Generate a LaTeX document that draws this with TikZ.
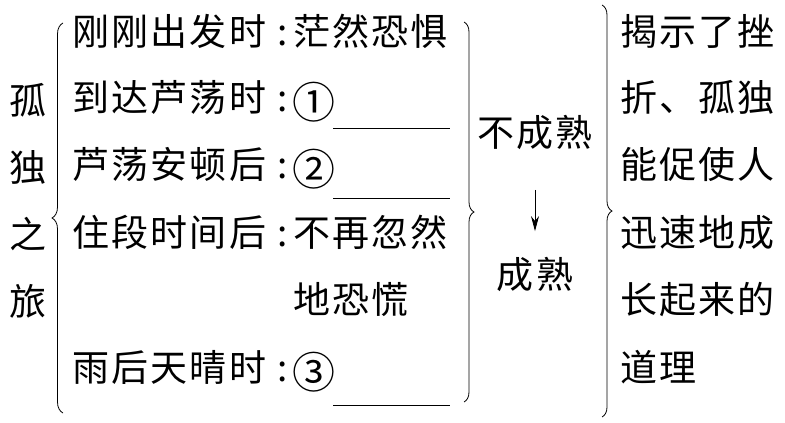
\documentclass[tikz,border=0pt]{standalone}
\usepackage{fontspec}
\newfontfamily\cjk[LetterSpace=6]{Noto Sans CJK SC}
\newfontfamily\circled{Noto Sans CJK SC}
\usetikzlibrary{arrows.meta}
\usetikzlibrary{decorations.pathreplacing}
\usetikzlibrary{positioning}

\tikzset{
  txt/.style={font=\cjk\fontsize{37}{40}\selectfont, inner sep=0pt, text height=0.82em, text depth=0.12em},
  num/.style={font=\circled\fontsize{43}{46}\selectfont, inner sep=0pt, text height=0.76em, text depth=0em, yshift=-7pt},
  bracelines/.style={line width=0.8pt, decorate, decoration={brace, amplitude=11pt}},
}

\begin{document}
\begin{tikzpicture}[x=1pt,y=-1pt]
        \useasboundingbox (0,0) rectangle (785,423);

        % Title
        \foreach \c [count=\i] in {孤,独,之,旅}
          \node[txt] (t\i) at (28,{44+67*\i}) {\c};

        % Stages
        \node[txt,anchor=west] (s1) at (72,42) {刚刚出发时};
        \node[txt,anchor=west] (s2) at (72,108) {到达芦荡时};
        \node[txt,anchor=west] (s3) at (72,175) {芦荡安顿后};
        \node[txt,anchor=west] (s4) at (72,243) {住段时间后};
        \node[txt,anchor=west] (s6) at (72,378) {雨后天晴时};
        \foreach \y [count=\i] in {42,108,175,243,378}
          \node[txt] (c\i) at (283,\y) {:};

        % Feelings
        \node[txt,anchor=west] (f1) at (293,42) {茫然恐惧};
        \node[num] (f2) at (314,108) {①};
        \node[num] (f3) at (314,175) {②};
        \node[txt,anchor=west] (f4) at (293,243) {不再忽然};
        \node[txt,anchor=west] (f5) at (293,310) {地恐慌};
        \node[num] (f6) at (314,378) {③};
        \draw[line width=0.8pt] (333,128) -- (450,128)
          (333,198) -- (450,198)
          (333,405) -- (450,405);

        % Braces
        \draw[bracelines] (63,413) -- (63,23);
        \draw[bracelines, decoration={amplitude=10pt}] (464,22) -- (464,402);
        \draw[bracelines, decoration={amplitude=10pt}] (602,5) -- (602,417);

        % Growth
        \node[txt] (immature) at (535,143) {不成熟};
        \node[txt] (mature) at (535,285) {成熟};
        \draw[-{Stealth[length=15pt,width=8pt]}, line width=0.8pt, shorten <=42pt, shorten >=49pt] (immature) -- (mature);

        % Meaning
        \node[txt,anchor=west] (m1) at (620,42) {揭示了挫};
        \node[txt,anchor=west] (m2) at (620,108) {折、孤独};
        \node[txt,anchor=west] (m3) at (620,175) {能促使人};
        \node[txt,anchor=west] (m4) at (620,243) {迅速地成};
        \node[txt,anchor=west] (m5) at (620,310) {长起来的};
        \node[txt,anchor=west] (m6) at (620,378) {道理};
      \end{tikzpicture}
\end{document}
